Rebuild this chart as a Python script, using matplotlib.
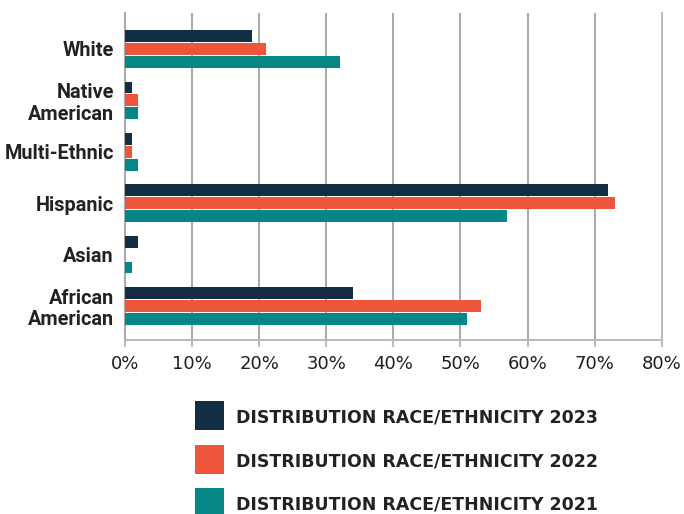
import numpy as np
import matplotlib
matplotlib.use("Agg")
import matplotlib.pyplot as plt
from matplotlib.patches import Rectangle

plt.rcParams['font.family'] = ['Roboto', 'DejaVu Sans']

# categories listed top to bottom
categories = ["White", "Native\nAmerican", "Multi-Ethnic", "Hispanic", "Asian", "African\nAmerican"]
pct_2023 = [19, 1, 1, 72, 2, 34]
pct_2022 = [21, 2, 1, 73, 0, 53]
pct_2021 = [32, 2, 2, 57, 1, 51]

series = [
    ("DISTRIBUTION RACE/ETHNICITY 2023", pct_2023, "#132e43"),
    ("DISTRIBUTION RACE/ETHNICITY 2022", pct_2022, "#ee553b"),
    ("DISTRIBUTION RACE/ETHNICITY 2021", pct_2021, "#058786"),
]

W, H = 684, 514
fig = plt.figure(figsize=(W / 100, H / 100), dpi=100)
ax = fig.add_axes([0.1827, 0.3385, 0.7847, 0.6362])

n = len(categories)
y = np.arange(n)[::-1]  # first category at top
step = 0.25
height = 0.23
for i, (name, vals, col) in enumerate(series):
    ax.barh(y + step * (1 - i), vals, height=height, color=col, label=name, zorder=3)

ax.set_xlim(0, 80)
ax.set_ylim(-0.66, n - 1 + 0.7)
ax.set_xticks(range(0, 81, 10))
ax.set_xticklabels([f"{v}%" for v in range(0, 81, 10)], fontsize=13,
                   color="#1e1e1e", family="DejaVu Sans")
ax.set_yticks(y)
ax.set_yticklabels(categories, fontsize=14.3, color="#222222", fontweight='bold',
                   linespacing=1.15)
ax.tick_params(axis='y', length=0, pad=8)
ax.tick_params(axis='x', length=5, color="#bbbbbb", width=1.5, pad=6)

ax.grid(axis='x', color="#999999", linewidth=1.2, zorder=0)
ax.spines['top'].set_visible(False)
ax.spines['left'].set_color("#aaaaaa")
ax.spines['right'].set_color("#bbbbbb")
ax.spines['bottom'].set_color("#bbbbbb")
for s in ['left', 'right', 'bottom']:
    ax.spines[s].set_linewidth(1.5)

# legend drawn by hand: square swatches with bold caps labels
box = 29
x0 = 195
for i, (name, _, col) in enumerate(series):
    top = 401 + 43.5 * i
    fig.add_artist(Rectangle((x0 / W, 1 - (top + box) / H), box / W, box / H,
                             transform=fig.transFigure, facecolor=col, edgecolor='none'))
    fig.text(236 / W, 1 - (top + box / 2) / H, name, ha='left', va='center_baseline',
             family='DejaVu Sans', fontweight='bold', fontsize=12.5, color="#222222")

fig.savefig("out.png", dpi=100)
